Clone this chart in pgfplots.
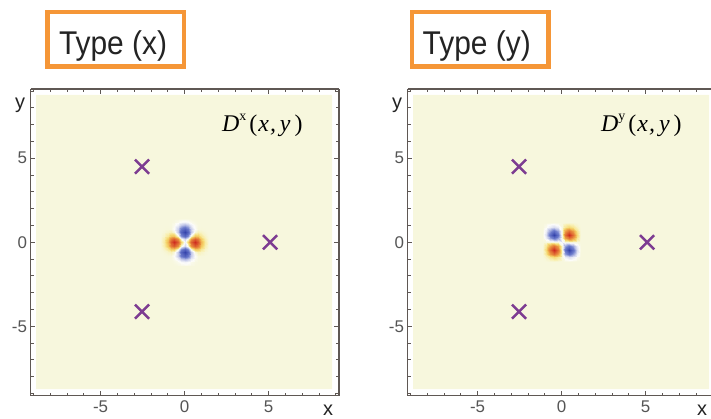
\documentclass[border=0pt]{standalone}
\usepackage{pgfplots}
\pgfplotsset{compat=1.18}
\usepackage{fontspec}
\setmainfont{Liberation Sans}
\newfontfamily\serif{Liberation Serif}
\definecolor{bgc}{RGB}{247,247,221}
\definecolor{framec}{RGB}{95,88,84}
\definecolor{tickc}{RGB}{85,85,85}
\definecolor{purp}{RGB}{125,60,145}
\definecolor{orng}{RGB}{245,150,55}
\definecolor{titc}{RGB}{35,35,35}
\pgfplotsset{
  colormap={dmap}{rgb255(0pt)=(50,65,170) rgb255(45pt)=(110,125,205) rgb255(75pt)=(200,205,235) rgb255(94pt)=(252,252,250) rgb255(100pt)=(247,247,221) rgb255(106pt)=(248,240,180) rgb255(120pt)=(245,215,110) rgb255(145pt)=(235,150,65) rgb255(200pt)=(205,40,30)},
  panel/.style={
    scale only axis, width=308.5bp, height=306.5bp,
    view={0}{90},
    xmin=-9.17, xmax=9.19, ymin=-9.12, ymax=9.12, zmin=-1, zmax=1,
    xtick={-5,0,5}, ytick={-5,0,5}, xticklabels={-5,0,5}, yticklabels={-5,0,5}, ztick=\empty,
    minor xtick={-9,-8,...,9}, minor ytick={-9,-8,...,9},
    xtick pos=both, ytick pos=both,
    tick align=inside,
    axis line style={line width=1.6bp, draw=framec},
    every tick/.style={line width=0.9bp, framec},
    major tick length=4.5bp, minor tick length=3bp,
    colormap name=dmap, point meta min=-1, point meta max=1,
    ticklabel style={font=\fontsize{17}{17}\selectfont, text=tickc},
    xticklabel style={yshift=-1.5bp},
  },
}
\begin{document}
\begin{tikzpicture}
\useasboundingbox (0,0) rectangle (711bp,419bp);

% ---------------- left panel: Type (x) ----------------
\begin{axis}[panel, at={(30.5bp,23.5bp)}, anchor=south west]
\addplot3[no marks, fill=bgc, draw=none] coordinates {(-8.84,-8.74,0) (8.78,-8.74,0) (8.78,8.77,0) (-8.84,8.77,0) (-8.84,-8.74,0)};
\addplot3[surf, shader=interp, mesh/cols=15] coordinates {
(-1.4,-1.4,0) (-1.2,-1.4,0) (-1,-1.4,0) (-0.8,-1.4,0) (-0.6,-1.4,-0.001) (-0.4,-1.4,-0.005) (-0.2,-1.4,-0.011) (0,-1.4,-0.014) (0.2,-1.4,-0.011) (0.4,-1.4,-0.005) (0.6,-1.4,-0.001) (0.8,-1.4,0) (1,-1.4,0) (1.2,-1.4,0) (1.4,-1.4,0)
(-1.4,-1.2,0) (-1.2,-1.2,0) (-1,-1.2,0) (-0.8,-1.2,-0.001) (-0.6,-1.2,-0.008) (-0.4,-1.2,-0.031) (-0.2,-1.2,-0.070) (0,-1.2,-0.091) (0.2,-1.2,-0.070) (0.4,-1.2,-0.031) (0.6,-1.2,-0.008) (0.8,-1.2,-0.001) (1,-1.2,0) (1.2,-1.2,0) (1.4,-1.2,0)
(-1.4,-1,0) (-1.2,-1,0) (-1,-1,0) (-0.8,-1,-0.004) (-0.6,-1,-0.030) (-0.4,-1,-0.117) (-0.2,-1,-0.263) (0,-1,-0.344) (0.2,-1,-0.263) (0.4,-1,-0.117) (0.6,-1,-0.030) (0.8,-1,-0.004) (1,-1,0) (1.2,-1,0) (1.4,-1,0)
(-1.4,-0.8,0) (-1.2,-0.8,0.001) (-1,-0.8,0.004) (-0.8,-0.8,0) (-0.6,-0.8,-0.055) (-0.4,-0.8,-0.253) (-0.2,-0.8,-0.582) (0,-0.8,-0.763) (0.2,-0.8,-0.582) (0.4,-0.8,-0.253) (0.6,-0.8,-0.055) (0.8,-0.8,0) (1,-0.8,0.004) (1.2,-0.8,0.001) (1.4,-0.8,0)
(-1.4,-0.6,0.001) (-1.2,-0.6,0.008) (-1,-0.6,0.030) (-0.8,-0.6,0.055) (-0.6,-0.6,0) (-0.4,-0.6,-0.274) (-0.2,-0.6,-0.734) (0,-0.6,-0.984) (0.2,-0.6,-0.734) (0.4,-0.6,-0.274) (0.6,-0.6,0) (0.8,-0.6,0.055) (1,-0.6,0.030) (1.2,-0.6,0.008) (1.4,-0.6,0.001)
(-1.4,-0.4,0.005) (-1.2,-0.4,0.031) (-1,-0.4,0.117) (-0.8,-0.4,0.253) (-0.6,-0.4,0.274) (-0.4,-0.4,0) (-0.2,-0.4,-0.464) (0,-0.4,-0.705) (0.2,-0.4,-0.464) (0.4,-0.4,0) (0.6,-0.4,0.274) (0.8,-0.4,0.253) (1,-0.4,0.117) (1.2,-0.4,0.031) (1.4,-0.4,0.005)
(-1.4,-0.2,0.011) (-1.2,-0.2,0.070) (-1,-0.2,0.263) (-0.8,-0.2,0.582) (-0.6,-0.2,0.734) (-0.4,-0.2,0.464) (-0.2,-0.2,0) (0,-0.2,-0.219) (0.2,-0.2,0) (0.4,-0.2,0.464) (0.6,-0.2,0.734) (0.8,-0.2,0.582) (1,-0.2,0.263) (1.2,-0.2,0.070) (1.4,-0.2,0.011)
(-1.4,0,0.014) (-1.2,0,0.091) (-1,0,0.344) (-0.8,0,0.763) (-0.6,0,0.984) (-0.4,0,0.705) (-0.2,0,0.219) (0,0,-0.1) (0.2,0,0.219) (0.4,0,0.705) (0.6,0,0.984) (0.8,0,0.763) (1,0,0.344) (1.2,0,0.091) (1.4,0,0.014)
(-1.4,0.2,0.011) (-1.2,0.2,0.070) (-1,0.2,0.263) (-0.8,0.2,0.582) (-0.6,0.2,0.734) (-0.4,0.2,0.464) (-0.2,0.2,0) (0,0.2,-0.219) (0.2,0.2,0) (0.4,0.2,0.464) (0.6,0.2,0.734) (0.8,0.2,0.582) (1,0.2,0.263) (1.2,0.2,0.070) (1.4,0.2,0.011)
(-1.4,0.4,0.005) (-1.2,0.4,0.031) (-1,0.4,0.117) (-0.8,0.4,0.253) (-0.6,0.4,0.274) (-0.4,0.4,0) (-0.2,0.4,-0.464) (0,0.4,-0.705) (0.2,0.4,-0.464) (0.4,0.4,0) (0.6,0.4,0.274) (0.8,0.4,0.253) (1,0.4,0.117) (1.2,0.4,0.031) (1.4,0.4,0.005)
(-1.4,0.6,0.001) (-1.2,0.6,0.008) (-1,0.6,0.030) (-0.8,0.6,0.055) (-0.6,0.6,0) (-0.4,0.6,-0.274) (-0.2,0.6,-0.734) (0,0.6,-0.984) (0.2,0.6,-0.734) (0.4,0.6,-0.274) (0.6,0.6,0) (0.8,0.6,0.055) (1,0.6,0.030) (1.2,0.6,0.008) (1.4,0.6,0.001)
(-1.4,0.8,0) (-1.2,0.8,0.001) (-1,0.8,0.004) (-0.8,0.8,0) (-0.6,0.8,-0.055) (-0.4,0.8,-0.253) (-0.2,0.8,-0.582) (0,0.8,-0.763) (0.2,0.8,-0.582) (0.4,0.8,-0.253) (0.6,0.8,-0.055) (0.8,0.8,0) (1,0.8,0.004) (1.2,0.8,0.001) (1.4,0.8,0)
(-1.4,1,0) (-1.2,1,0) (-1,1,0) (-0.8,1,-0.004) (-0.6,1,-0.030) (-0.4,1,-0.117) (-0.2,1,-0.263) (0,1,-0.344) (0.2,1,-0.263) (0.4,1,-0.117) (0.6,1,-0.030) (0.8,1,-0.004) (1,1,0) (1.2,1,0) (1.4,1,0)
(-1.4,1.2,0) (-1.2,1.2,0) (-1,1.2,0) (-0.8,1.2,-0.001) (-0.6,1.2,-0.008) (-0.4,1.2,-0.031) (-0.2,1.2,-0.070) (0,1.2,-0.091) (0.2,1.2,-0.070) (0.4,1.2,-0.031) (0.6,1.2,-0.008) (0.8,1.2,-0.001) (1,1.2,0) (1.2,1.2,0) (1.4,1.2,0)
(-1.4,1.4,0) (-1.2,1.4,0) (-1,1.4,0) (-0.8,1.4,0) (-0.6,1.4,-0.001) (-0.4,1.4,-0.005) (-0.2,1.4,-0.011) (0,1.4,-0.014) (0.2,1.4,-0.011) (0.4,1.4,-0.005) (0.6,1.4,-0.001) (0.8,1.4,0) (1,1.4,0) (1.2,1.4,0) (1.4,1.4,0)
};
\addplot3[only marks, mark=x, mark size=10bp, color=purp, mark options={line width=2.5bp, solid}] coordinates {(-2.53,4.5,0) (5.09,0,0) (-2.53,-4.13,0)};
\end{axis}

% ---------------- right panel: Type (y) ----------------
\begin{axis}[panel, at={(407.5bp,23.5bp)}, anchor=south west]
\addplot3[no marks, fill=bgc, draw=none] coordinates {(-8.84,-8.74,0) (8.78,-8.74,0) (8.78,8.77,0) (-8.84,8.77,0) (-8.84,-8.74,0)};
\addplot3[surf, shader=interp, mesh/cols=11] coordinates {
(-1.125,-1.125,0) (-0.9,-1.125,0.004) (-0.675,-1.125,0.014) (-0.45,-1.125,0.022) (-0.225,-1.125,0.014) (0,-1.125,0) (0.225,-1.125,-0.014) (0.45,-1.125,-0.022) (0.675,-1.125,-0.014) (0.9,-1.125,-0.004) (1.125,-1.125,0)
(-1.125,-0.9,0.004) (-0.9,-0.9,0.034) (-0.675,-0.9,0.121) (-0.45,-0.9,0.185) (-0.225,-0.9,0.117) (0,-0.9,0) (0.225,-0.9,-0.117) (0.45,-0.9,-0.185) (0.675,-0.9,-0.121) (0.9,-0.9,-0.034) (1.125,-0.9,-0.004)
(-1.125,-0.675,0.014) (-0.9,-0.675,0.121) (-0.675,-0.675,0.430) (-0.45,-0.675,0.655) (-0.225,-0.675,0.416) (0,-0.675,0) (0.225,-0.675,-0.416) (0.45,-0.675,-0.655) (0.675,-0.675,-0.430) (0.9,-0.675,-0.121) (1.125,-0.675,-0.014)
(-1.125,-0.45,0.022) (-0.9,-0.45,0.185) (-0.675,-0.45,0.655) (-0.45,-0.45,0.998) (-0.225,-0.45,0.633) (0,-0.45,0) (0.225,-0.45,-0.633) (0.45,-0.45,-0.998) (0.675,-0.45,-0.655) (0.9,-0.45,-0.185) (1.125,-0.45,-0.022)
(-1.125,-0.225,0.014) (-0.9,-0.225,0.117) (-0.675,-0.225,0.416) (-0.45,-0.225,0.633) (-0.225,-0.225,0.402) (0,-0.225,0) (0.225,-0.225,-0.402) (0.45,-0.225,-0.633) (0.675,-0.225,-0.416) (0.9,-0.225,-0.117) (1.125,-0.225,-0.014)
(-1.125,0,0) (-0.9,0,0) (-0.675,0,0) (-0.45,0,0) (-0.225,0,0) (0,0,-0.1) (0.225,0,0) (0.45,0,0) (0.675,0,0) (0.9,0,0) (1.125,0,0)
(-1.125,0.225,-0.014) (-0.9,0.225,-0.117) (-0.675,0.225,-0.416) (-0.45,0.225,-0.633) (-0.225,0.225,-0.402) (0,0.225,0) (0.225,0.225,0.402) (0.45,0.225,0.633) (0.675,0.225,0.416) (0.9,0.225,0.117) (1.125,0.225,0.014)
(-1.125,0.45,-0.022) (-0.9,0.45,-0.185) (-0.675,0.45,-0.655) (-0.45,0.45,-0.998) (-0.225,0.45,-0.633) (0,0.45,0) (0.225,0.45,0.633) (0.45,0.45,0.998) (0.675,0.45,0.655) (0.9,0.45,0.185) (1.125,0.45,0.022)
(-1.125,0.675,-0.014) (-0.9,0.675,-0.121) (-0.675,0.675,-0.430) (-0.45,0.675,-0.655) (-0.225,0.675,-0.416) (0,0.675,0) (0.225,0.675,0.416) (0.45,0.675,0.655) (0.675,0.675,0.430) (0.9,0.675,0.121) (1.125,0.675,0.014)
(-1.125,0.9,-0.004) (-0.9,0.9,-0.034) (-0.675,0.9,-0.121) (-0.45,0.9,-0.185) (-0.225,0.9,-0.117) (0,0.9,0) (0.225,0.9,0.117) (0.45,0.9,0.185) (0.675,0.9,0.121) (0.9,0.9,0.034) (1.125,0.9,0.004)
(-1.125,1.125,0) (-0.9,1.125,-0.004) (-0.675,1.125,-0.014) (-0.45,1.125,-0.022) (-0.225,1.125,-0.014) (0,1.125,0) (0.225,1.125,0.014) (0.45,1.125,0.022) (0.675,1.125,0.014) (0.9,1.125,0.004) (1.125,1.125,0)
};
\addplot3[only marks, mark=x, mark size=10bp, color=purp, mark options={line width=2.5bp, solid}] coordinates {(-2.53,4.5,0) (5.09,0,0) (-2.53,-4.13,0)};
\end{axis}

% ---------------- titles ----------------
\draw[orng, line width=4.5bp] (47.5bp,352.5bp) rectangle (184bp,406.8bp);
\node[anchor=base west, inner sep=0, text=titc] at (58.8bp,364bp) {\scalebox{0.91}[1]{\fontsize{33}{33}\selectfont Type (x)}};
\draw[orng, line width=4.5bp] (412bp,352.5bp) rectangle (548.5bp,406.8bp);
\node[anchor=base west, inner sep=0, text=titc] at (422.5bp,364bp) {\scalebox{0.91}[1]{\fontsize{33}{33}\selectfont Type (y)}};

% ---------------- axis letters ----------------
\node[anchor=base, inner sep=0, text=titc] at (20bp,310.6bp) {\fontsize{20}{20}\selectfont y};
\node[anchor=base, inner sep=0, text=titc] at (397bp,310.6bp) {\fontsize{20}{20}\selectfont y};
\node[anchor=base, inner sep=0, text=titc] at (328bp,3.8bp) {\fontsize{20}{20}\selectfont x};
\node[anchor=base, inner sep=0, text=titc] at (702bp,3.8bp) {\fontsize{20}{20}\selectfont x};

% ---------------- function labels ----------------
\node[anchor=base west, inner sep=0, text=black] at (222bp,287.3bp) {\fontsize{24}{24}\selectfont\serif\itshape D\raisebox{0.45em}{\upshape\fontsize{14}{14}\selectfont x}\kern3bp{\upshape(}\kern1bp x\kern1bp,\kern4bp y\kern4bp{\upshape)}};
\node[anchor=base west, inner sep=0, text=black] at (601bp,287.3bp) {\fontsize{24}{24}\selectfont\serif\itshape D\raisebox{0.45em}{\upshape\fontsize{14}{14}\selectfont y}\kern3bp{\upshape(}\kern1bp x\kern1bp,\kern4bp y\kern4bp{\upshape)}};
\end{tikzpicture}
\end{document}
